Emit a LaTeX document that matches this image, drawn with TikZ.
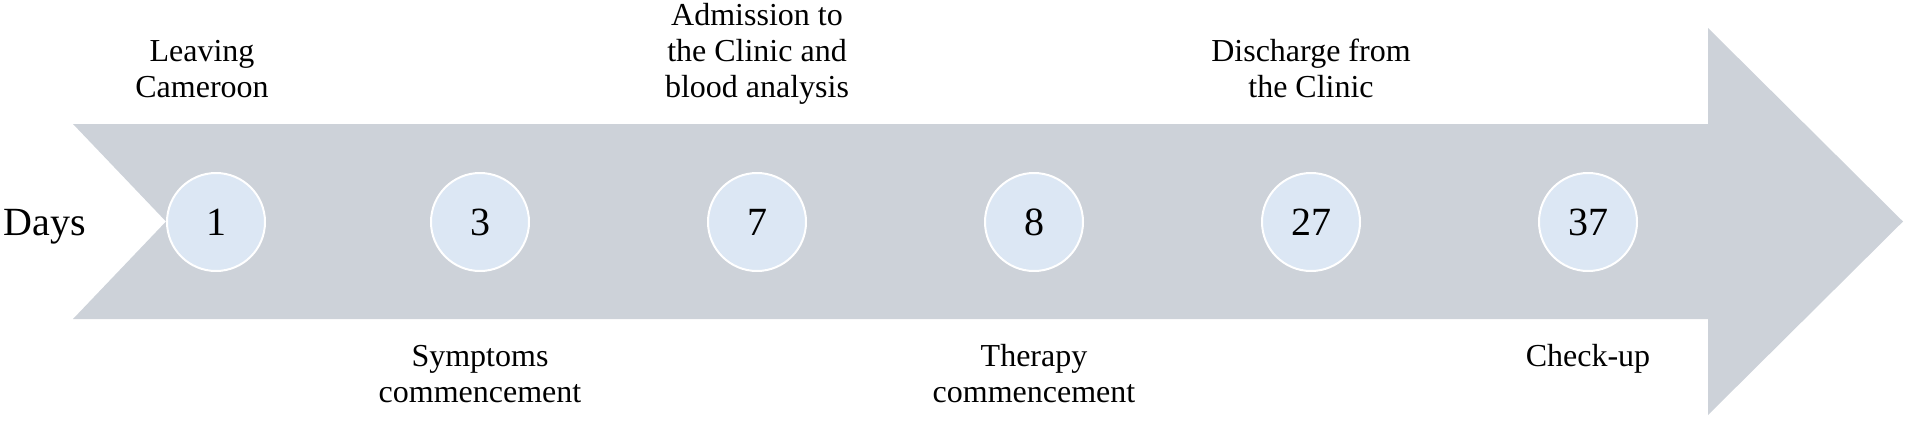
\documentclass[tikz,border=0pt]{standalone}
\usepackage{fontspec}
\setmainfont{Liberation Serif}
\usetikzlibrary{positioning}
\definecolor{bandgray}{RGB}{205,210,217}
\definecolor{dayblue}{RGB}{220,231,244}

\begin{document}
\begin{tikzpicture}[x=0.5pt, y=0.5pt,
        daynode/.style={circle, minimum size=49pt, inner sep=0pt, fill=dayblue, draw=white, line width=1pt, font=\fontsize{20}{24}\selectfont},
        event/.style={align=center, inner sep=0pt, font=\fontsize{16}{18}\selectfont}]
        \useasboundingbox (0,0) rectangle (1906,420);
        % timeline arrow
        \fill [bandgray] (73,296) -- (1708,296) -- (1708,392) -- (1903,198.5) -- (1708,5) -- (1708,101) -- (73,101) -- (166,198.5) -- cycle;

        \node (days) [anchor=base west, inner sep=0pt, font=\fontsize{20}{24}\selectfont] at (3,185) {Days};

        \node (day1) [daynode] at (216,198) {1};
        \node (day2) [daynode, right=82pt of day1] {3};
        \node (day3) [daynode, right=88.5pt of day2] {7};
        \node (day4) [daynode, right=88.5pt of day3] {8};
        \node (day5) [daynode, right=88.5pt of day4] {27};
        \node (day6) [daynode, right=88.5pt of day5] {37};

        % events above the arrow
        \node (leave) [event, above=31.6pt of day1, xshift=-7pt] {Leaving\strut\\Cameroon\strut};
        \node (admission) [event, above=31.6pt of day3] {Admission to\strut\\the Clinic and\strut\\blood analysis\strut};
        \node (discharge) [event, above=31.6pt of day5] {Discharge from\strut\\the Clinic\strut};

        % events below the arrow
        \node (symptoms) [event, below=34.4pt of day2] {Symptoms\strut\\commencement\strut};
        \node (therapy) [event, below=34.4pt of day4] {Therapy\strut\\commencement\strut};
        \node (checkup) [event, below=34.4pt of day6] {Check-up\strut};
    \end{tikzpicture}
\end{document}
